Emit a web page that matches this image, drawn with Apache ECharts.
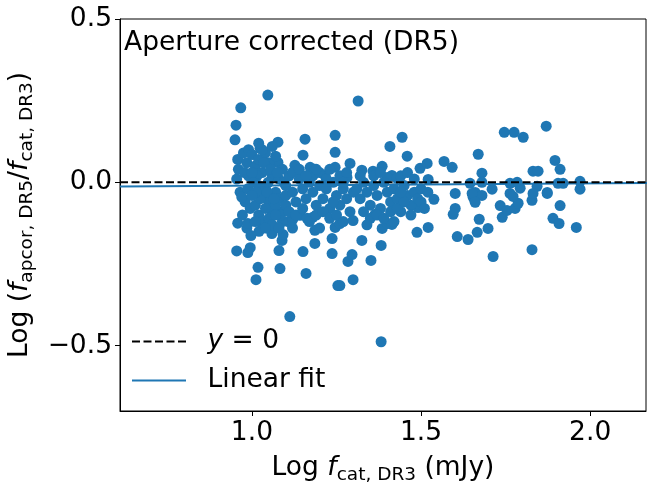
<!DOCTYPE html>
<html><head><meta charset="utf-8">
<script src="https://cdn.jsdelivr.net/npm/echarts@6/dist/echarts.min.js"></script>
<style>html,body{margin:0;padding:0;background:#fff}#c{width:647px;height:483px}</style>
</head><body><div id="c"></div>
<script>
// Points [log f_cat,DR3 , log ratio], grouped by flux
const binA = [[0.967,0.228],[0.953,0.175],[0.950,0.13],[0.958,0.07],[0.955,0.01],[0.958,-0.125],[0.955,-0.21],[0.972,-0.10],[0.96,0.04],[0.965,-0.03],[0.975,0.09],[0.985,0.06],[0.98,-0.06],[0.99,0.02],[0.995,-0.08],[0.97,-0.045],[0.985,-0.14],[0.99,0.1],[1.0,0.085],[0.995,-0.2],[0.988,-0.02],[0.978,0.03]];
const binB = [[1.024,0.104],[1.077,0.123],[1.047,0.267],[1.077,0.061],[1.127,0.052],[0.988,-0.215],[1.018,-0.26],[1.012,-0.298],[1.083,-0.264],[1.08,-0.209],[1.089,-0.178],[1.092,-0.16],[1.059,-0.157],[1.021,-0.15],[0.997,-0.163],[0.988,-0.126],[1.089,-0.089],[1.107,-0.12],[1.121,-0.113],[1.142,-0.101],[1.112,-0.411],
[1.01,0.05],[1.02,0.07],[1.03,0.03],[1.04,0.09],[1.05,0.06],[1.06,0.02],[1.02,-0.01],[1.03,-0.04],[1.04,-0.02],[1.05,-0.06],[1.06,-0.09],[1.07,-0.03],[1.08,0.01],[1.09,0.04],[1.1,-0.01],[1.01,-0.07],[1.02,-0.1],[1.03,-0.12],[1.04,-0.08],[1.05,-0.11],[1.06,-0.13],[1.07,-0.07],[1.08,-0.05],[1.09,-0.12],[1.1,-0.07],[1.015,0.02],[1.025,-0.05],[1.035,0.06],[1.045,-0.03],[1.055,0.04],[1.065,-0.05],[1.075,0.03],[1.085,-0.1],[1.095,0.0],[1.005,0.0],[1.012,-0.03],[1.048,0.0],[1.07,0.08],[1.03,0.1],[1.06,0.11],[1.02,0.12],[1.0,0.03],[1.0,-0.04],[1.01,-0.12],[1.04,-0.14],[1.07,-0.1],[1.08,-0.14],[1.1,-0.04],[1.11,-0.09],[1.11,0.02]];
const binC = [[1.151,0.083],[1.157,0.132],[1.172,0.046],[1.186,0.04],[1.121,0.031],[1.216,0.021],[1.246,0.144],[1.246,0.092],[1.246,0.046],[1.151,-0.212],[1.160,-0.279],[1.254,-0.316],[1.186,-0.187],[1.186,-0.147],[1.237,-0.172],[1.237,-0.218],[1.246,-0.138],[1.163,-0.11],[1.18,-0.107],[1.26,-0.126],[1.281,0.015],[1.29,0.058],
[1.12,-0.03],[1.13,-0.06],[1.14,0.01],[1.15,-0.02],[1.16,-0.05],[1.17,0.0],[1.18,-0.03],[1.19,-0.07],[1.2,-0.01],[1.21,-0.05],[1.22,-0.02],[1.23,-0.08],[1.24,0.0],[1.25,-0.04],[1.26,-0.07],[1.27,-0.02],[1.28,-0.05],[1.29,-0.09],[1.13,-0.1],[1.15,-0.08],[1.17,-0.12],[1.19,-0.1],[1.21,-0.09],[1.23,-0.11],[1.25,-0.1],[1.27,-0.12],[1.14,0.04],[1.18,0.02],[1.2,0.03],[1.22,0.01],[1.26,0.02],[1.28,0.03],[1.12,-0.14],[1.2,-0.14],[1.24,-0.06],[1.16,0.02],[1.3,-0.03],[1.27,0.0],[1.23,0.04],[1.19,0.04]];
const binD = [[1.314,0.249],[1.408,0.11],[1.444,0.138],[1.459,0.08],[1.325,0.037],[1.358,0.034],[1.385,0.049],[1.414,0.021],[1.4,0.015],[1.429,0.012],[1.497,0.043],[1.518,0.058],[1.521,0.009],[1.26,-0.316],[1.299,-0.298],[1.284,-0.242],[1.296,-0.221],[1.352,-0.239],[1.382,-0.193],[1.325,-0.178],[1.385,-0.141],[1.4,-0.126],[1.414,-0.129],[1.488,-0.153],[1.521,-0.138],[1.538,-0.052],[1.491,-0.077],[1.364,-0.098],[1.299,-0.117],[1.382,-0.488],
[1.31,-0.02],[1.32,-0.05],[1.33,0.0],[1.34,-0.03],[1.35,-0.07],[1.36,-0.01],[1.37,-0.04],[1.38,-0.08],[1.39,0.0],[1.4,-0.03],[1.41,-0.06],[1.42,-0.02],[1.43,-0.05],[1.44,-0.09],[1.45,-0.01],[1.46,-0.04],[1.47,-0.07],[1.48,-0.03],[1.49,-0.05],[1.5,-0.02],[1.33,-0.09],[1.35,-0.11],[1.37,-0.1],[1.39,-0.11],[1.41,-0.09],[1.43,-0.08],[1.45,-0.06],[1.47,-0.1],[1.32,0.02],[1.36,0.02],[1.44,0.02],[1.46,0.03],[1.48,0.01],[1.34,-0.13],[1.42,-0.12],[1.5,-0.06],[1.52,-0.03],[1.51,-0.08],[1.38,0.03],[1.44,-0.03]];
const binE = [[1.568,0.064],[1.592,0.046],[1.669,0.086],[1.746,0.153],[1.775,0.153],[1.802,0.138],[1.87,0.172],[1.896,0.067],[1.911,0.04],[1.68,0.028],[1.831,0.034],[1.846,0.034],[1.601,-0.034],[1.66,-0.031],[1.71,-0.021],[1.763,-0.003],[1.784,0.0],[1.793,-0.018],[1.843,-0.012],[1.873,-0.031],[1.905,-0.003],[1.92,-0.003],[1.97,0.003],[1.97,-0.021],[1.645,-0.003],[1.68,0.0],[1.654,-0.046],[1.68,-0.04],[1.601,-0.08],[1.595,-0.098],[1.651,-0.034],[1.66,-0.061],[1.672,-0.113],[1.698,-0.141],[1.666,-0.153],[1.639,-0.175],[1.607,-0.166],[1.713,-0.227],[1.734,-0.071],[1.74,-0.107],[1.754,-0.086],[1.778,-0.08],[1.787,-0.064],[1.763,-0.034],[1.772,-0.043],[1.828,-0.055],[1.831,-0.034],[1.873,-0.034],[1.911,-0.071],[1.89,-0.11],[1.908,-0.126],[1.959,-0.138],[1.828,-0.206]];
const zeroLine = [[0.61,0],[2.17,0]];
const fitLine = [[0.61,-0.0127],[2.17,-0.0018]];
const xTicks = [1.0,1.5,2.0];
const yTicks = [-0.5,0,0.5];

const points = binA.concat(binB, binC, binD, binE);
const FF = 'DejaVu Sans';
const FS = 26.5;
const rich = {
  n:{fontSize:FS,fontFamily:FF,color:'#000',lineHeight:34},
  i:{fontSize:FS,fontStyle:'italic',fontFamily:FF,color:'#000',lineHeight:34},
  s:{fontSize:18.5,fontFamily:FF,color:'#000',verticalAlign:'bottom',lineHeight:34}
};
const dashIcon = 'path://M0,0H8V2H0Z M11.5,0H19.5V2H11.5Z M23,0H31V2H23Z M34.5,0H42.5V2H34.5Z M46,0H54V2H46Z';
const solidIcon = 'path://M0,0H54V2H0Z';
const chart = echarts.init(document.getElementById('c'), null, {renderer:'canvas'});
chart.setOption({
  animation:false,
  textStyle:{fontFamily:FF},
  grid:{left:120,right:1,top:19,bottom:72,outerBoundsMode:'none',containLabel:false,show:true,borderColor:'#000',borderWidth:1,backgroundColor:'transparent'},
  title:{text:'Aperture corrected (DR5)',left:124,top:30,padding:0,textStyle:{fontFamily:FF,fontSize:FS,fontWeight:'normal',color:'#000'}},
  legend:{
    orient:'vertical',left:132,top:326,itemGap:8,itemWidth:55,itemHeight:2,padding:0,
    data:[{name:'y0',icon:dashIcon,itemStyle:{color:'#000'}},{name:'Linear fit',icon:solidIcon,itemStyle:{color:'#1f77b4'}}],
    formatter:n=> n==='y0' ? '{i|y} = 0' : 'Linear fit',
    textStyle:{fontFamily:FF,fontSize:FS,color:'#000',lineHeight:31,padding:[0,0,0,16],rich:{i:{fontStyle:'italic',fontSize:FS,fontFamily:FF,lineHeight:31}}}
  },
  xAxis:{type:'value',min:0.61,max:2.165,
    name:'{n|Log }{i|f}{s|cat, DR3}{n| (mJy)}',nameLocation:'middle',nameGap:40,
    nameTextStyle:{rich:rich},
    splitLine:{show:false},
    axisLine:{show:true,onZero:false,lineStyle:{color:'#000'}},
    axisTick:{show:true,inside:false,length:5,lineStyle:{color:'#000'},customValues:xTicks},
    axisLabel:{fontSize:FS,color:'#000',fontFamily:FF,margin:9,customValues:xTicks,formatter:v=>v.toFixed(1)}
  },
  yAxis:{type:'value',min:-0.7,max:0.5,
    name:'{n|Log (}{i|f}{s|apcor, DR5}{n|/}{i|f}{s|cat, DR3}{n|)}',nameLocation:'middle',nameGap:70,nameRotate:90,
    nameTextStyle:{rich:rich},
    splitLine:{show:false},
    axisLine:{show:true,onZero:false,lineStyle:{color:'#000'}},
    axisTick:{show:true,inside:false,length:5,lineStyle:{color:'#000'},customValues:yTicks},
    axisLabel:{fontSize:FS,color:'#000',fontFamily:FF,margin:8,customValues:yTicks,formatter:v=> (v<0?'\u2212':'')+Math.abs(v).toFixed(1)}
  },
  series:[
    {type:'scatter',name:'data',data:points,symbolSize:11,itemStyle:{color:'#1f77b4',opacity:1},z:2},
    {type:'line',name:'y0',data:zeroLine,symbol:'none',lineStyle:{color:'#000',width:2,type:[8,3.5]},itemStyle:{color:'#000'},z:4},
    {type:'line',name:'Linear fit',data:fitLine,symbol:'none',lineStyle:{color:'#1f77b4',width:2},itemStyle:{color:'#1f77b4'},z:3}
  ]
});
</script></body></html>
